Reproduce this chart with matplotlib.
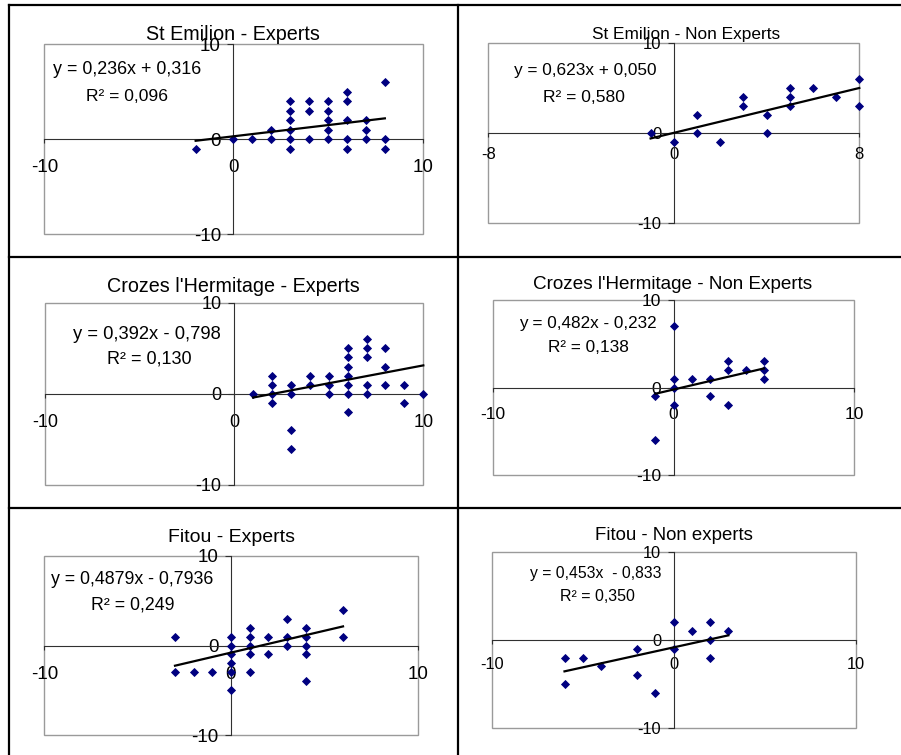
import matplotlib
matplotlib.use("Agg")
import matplotlib.pyplot as plt
from matplotlib.lines import Line2D
from matplotlib.patches import Rectangle

plt.rcParams["font.family"] = ["Liberation Sans", "DejaVu Sans"]

# ---------------- data ----------------
titles = ["St Emilion - Experts", "St Emilion - Non Experts",
          "Crozes l'Hermitage - Experts", "Crozes l'Hermitage - Non Experts",
          "Fitou - Experts", "Fitou - Non experts"]

st_emilion_exp_x = [-2, 0, 1, 2, 2, 3, 3, 3, 3, 3, 3, 4, 4, 4, 5, 5, 5, 5, 5,
                    6, 6, 6, 6, 6, 7, 7, 7, 8, 8, 8]
st_emilion_exp_y = [-1, 0, 0, 0, 1, 4, 3, 2, 1, 0, -1, 4, 3, 0, 4, 3, 2, 1, 0,
                    5, 4, 2, 0, -1, 2, 1, 0, 6, 0, -1]

st_emilion_non_x = [-1, 0, 1, 1, 2, 3, 3, 4, 4, 5, 5, 5, 6, 7, 8, 8]
st_emilion_non_y = [0, -1, 2, 0, -1, 4, 3, 2, 0, 5, 4, 3, 5, 4, 6, 3]

crozes_exp_x = [1, 2, 2, 2, 2, 3, 3, 3, 3, 4, 4, 5, 5, 5,
                6, 6, 6, 6, 6, 6, 6, 7, 7, 7, 7, 7, 8, 8, 8, 9, 9, 10]
crozes_exp_y = [0, 2, 1, 0, -1, 1, 0, -4, -6, 2, 1, 2, 1, 0,
                5, 4, 3, 2, 1, 0, -2, 6, 5, 4, 1, 0, 5, 3, 1, 1, -1, 0]

crozes_non_x = [-1, -1, 0, 0, 0, 0, 1, 2, 2, 3, 3, 3, 4, 5, 5, 5]
crozes_non_y = [-1, -6, 7, 1, 0, -2, 1, 1, -1, 3, 2, -2, 2, 3, 2, 1]

fitou_exp_x = [-3, -3, -2, -1, 0, 0, 0, 0, 0, 0, 1, 1, 1, 1, 1, 2, 2,
               3, 3, 3, 4, 4, 4, 4, 4, 6, 6]
fitou_exp_y = [1, -3, -3, -3, 1, 0, -1, -2, -3, -5, 2, 1, 0, -1, -3, 1, -1,
               3, 1, 0, 2, 1, 0, -1, -4, 4, 1]

fitou_non_x = [-6, -6, -5, -4, -2, -2, -1, 0, 0, 1, 2, 2, 2, 3]
fitou_non_y = [-2, -5, -2, -3, -1, -4, -6, 2, -1, 1, 2, 0, -2, 1]

slopes = [0.236, 0.623, 0.392, 0.482, 0.4879, 0.453]
intercepts = [0.316, 0.050, -0.798, -0.232, -0.7936, -0.833]
equation_labels = ["y = 0,236x + 0,316", "y = 0,623x + 0,050",
                   "y = 0,392x - 0,798", "y = 0,482x - 0,232",
                   "y = 0,4879x - 0,7936", "y = 0,453x  - 0,833"]
r2_labels = ["R\u00b2 = 0,096", "R\u00b2 = 0,580", "R\u00b2 = 0,130",
             "R\u00b2 = 0,138", "R\u00b2 = 0,249", "R\u00b2 = 0,350"]
x_limits = [10, 8, 10, 10, 10, 10]
y_limit = 10

xs_all = [st_emilion_exp_x, st_emilion_non_x, crozes_exp_x, crozes_non_x,
          fitou_exp_x, fitou_non_x]
ys_all = [st_emilion_exp_y, st_emilion_non_y, crozes_exp_y, crozes_non_y,
          fitou_exp_y, fitou_non_y]

# ---------------- layout (pixels) ----------------
W, H = 901, 755
fig = plt.figure(figsize=(W / 100, H / 100), dpi=100)
fig.patch.set_facecolor("white")

boxes = [(44.3, 44.3, 422.7, 234.3), (488.3, 43.3, 859.3, 223.3),
         (45.0, 302.7, 423.3, 485.0), (492.7, 300.0, 854.3, 475.0),
         (44.3, 556.0, 417.7, 735.0), (491.7, 551.7, 855.7, 728.3)]
title_pos = [(233, 34), (686, 34), (233, 286), (673, 284.5), (232, 537.5), (673.5, 535)]
eq_pos = [(127.5, 70), (585, 70), (147, 334.5), (587.5, 323.5), (132, 579.5), (596, 573.5)]
r2_pos = [(127, 96.5), (584, 97), (149.5, 358.5), (588, 347.5), (132.5, 605), (597, 596.5)]
title_sizes = [14.2, 12.4, 14.2, 13.6, 14.0, 13.4]
eq_sizes = [12.85, 12.4, 13.2, 12.3, 12.8, 11.3]
r2_sizes = [12.6, 12.6, 13.0, 12.4, 12.8, 11.5]
tick_sizes = [13.6, 12.0, 13.0, 12.5, 13.6, 11.8]
x_label_pads = [11.5, 7.2, 11.8, 11.0, 12.0, 9.3]

NAVY = "#000080"

def fx(p):
    return p / W

def fy(p):
    return 1 - p / H

for i in range(6):
    x0, y0, x1, y1 = boxes[i]
    ax = fig.add_axes([fx(x0), fy(y1), (x1 - x0) / W, (y1 - y0) / H])
    xl = x_limits[i]
    ax.set_xlim(-xl, xl)
    ax.set_ylim(-y_limit, y_limit)
    ax.patch.set_visible(False)
    for s in ["top", "right"]:
        ax.spines[s].set_visible(False)
    ax.spines["left"].set_position(("data", 0))
    ax.spines["bottom"].set_position(("data", 0))
    for s in ["left", "bottom"]:
        ax.spines[s].set_color("#303030")
        ax.spines[s].set_linewidth(0.8)
    ax.add_patch(Rectangle((0, 0), 1, 1, transform=ax.transAxes, fill=False,
                           ec="#9a9a9a", lw=1.0, clip_on=False, zorder=0))
    ax.set_xticks([-xl, 0, xl])
    ax.set_xticklabels([str(-xl), "0", str(xl)])
    ax.set_yticks([-y_limit, 0, y_limit])
    ax.set_yticklabels([str(-y_limit), "0", str(y_limit)])
    ts = tick_sizes[i]
    ax.tick_params(axis="x", direction="out", length=3, width=0.8, color="#303030",
                   pad=x_label_pads[i], labelsize=ts)
    ax.tick_params(axis="y", direction="out", length=4, width=0.8, color="#303030",
                   pad=5, labelsize=ts)

    x = xs_all[i]
    y = ys_all[i]
    ax.plot(x, y, linestyle="none", marker="D", markersize=4.0, color=NAVY,
            markeredgecolor=NAVY, markeredgewidth=0.6, clip_on=False, zorder=3)
    lx = [min(x), max(x)]
    ly = [slopes[i] * v + intercepts[i] for v in lx]
    ax.plot(lx, ly, color="black", lw=1.6, zorder=4, clip_on=False)

    fig.text(fx(title_pos[i][0]), fy(title_pos[i][1]), titles[i], ha="center",
             va="center", fontsize=title_sizes[i])
    fig.text(fx(eq_pos[i][0]), fy(eq_pos[i][1]), equation_labels[i], ha="center",
             va="center", fontsize=eq_sizes[i])
    fig.text(fx(r2_pos[i][0]), fy(r2_pos[i][1]), r2_labels[i], ha="center",
             va="center", fontsize=r2_sizes[i])

# table grid lines
def hline(ypx, xa, xb):
    fig.add_artist(Line2D([fx(xa), fx(xb)], [fy(ypx), fy(ypx)], color="black", lw=1.6))

def vline(xpx, ya, yb):
    fig.add_artist(Line2D([fx(xpx), fx(xpx)], [fy(ya), fy(yb)], color="black", lw=1.6))

hline(5, 8.5, 901)
hline(257, 8.5, 901)
hline(508, 8.5, 901)
vline(9, 4.5, 755)
vline(458, 4.5, 755)

fig.savefig("out.png", dpi=100, facecolor="white")
